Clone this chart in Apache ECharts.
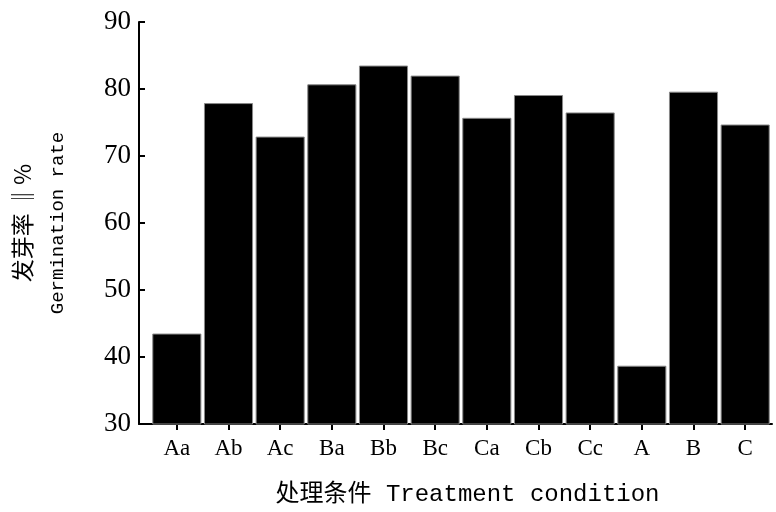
<!DOCTYPE html>
<html>
<head>
<meta charset="utf-8">
<script src="https://cdn.jsdelivr.net/npm/echarts@6/dist/echarts.min.js"></script>
<style>
  html, body { margin: 0; padding: 0; background: #fff; }
  #chart { width: 776px; height: 512px; }
</style>
</head>
<body>
<div id="chart"></div>
<script>
// categories and germination rate (%)
var categories = ['Aa', 'Ab', 'Ac', 'Ba', 'Bb', 'Bc', 'Ca', 'Cb', 'Cc', 'A', 'B', 'C'];
var germRate = [43.5, 77.9, 72.9, 80.7, 83.5, 82.0, 75.7, 79.1, 76.5, 38.7, 79.6, 74.7];
var yMin = 30, yMax = 90, yStep = 10;

var chart = echarts.init(document.getElementById('chart'));
chart.setOption({
    animation: false,
    grid: [
        // frame: y axis + long x axis line
        { left: 139, right: 4, top: 22, bottom: 88, outerBoundsMode: 'none', containLabel: false },
        // bars
        { left: 151, width: 620, top: 22, bottom: 88, outerBoundsMode: 'none', containLabel: false }
    ],
    xAxis: [
        {
            gridIndex: 0, type: 'value', min: 0, max: 1,
            axisLine: { show: true, lineStyle: { color: '#000', width: 2 } },
            axisTick: { show: false }, axisLabel: { show: false }, splitLine: { show: false },
            name: '处理条件 Treatment condition',
            nameLocation: 'middle', nameGap: 59,
            nameTextStyle: { fontFamily: 'Liberation Mono, Noto Sans CJK SC', fontSize: 24, color: '#000', padding: [0, 0, 0, 24] }
        },
        {
            gridIndex: 1, type: 'category', data: categories,
            axisLine: { show: false },
            axisTick: { show: true, alignWithLabel: true, length: 6, lineStyle: { color: '#000', width: 2 } },
            axisLabel: { color: '#000', fontFamily: 'Liberation Serif', fontSize: 23, margin: 13 }
        }
    ],
    yAxis: [
        {
            gridIndex: 0, type: 'value', min: yMin, max: yMax, interval: yStep,
            axisLine: { show: true, lineStyle: { color: '#000', width: 2 } },
            axisTick: { show: true, inside: true, length: 6, lineStyle: { color: '#000', width: 2 } },
            axisLabel: { color: '#000', fontFamily: 'Liberation Serif', fontSize: 27, margin: 8 },
            splitLine: { show: false },
            name: '{a|发芽率 ‖%}\n{b|Germination rate}',
            nameLocation: 'middle', nameRotate: 90, nameGap: 63,
            nameTextStyle: {
                color: '#000',
                rich: {
                    a: { fontFamily: 'Noto Sans CJK SC', fontSize: 23, lineHeight: 36, color: '#000' },
                    b: { fontFamily: 'Liberation Mono', fontSize: 19, lineHeight: 36, color: '#000' }
                }
            }
        },
        {
            gridIndex: 1, type: 'value', min: yMin, max: yMax, show: false
        }
    ],
    series: [{
        type: 'bar',
        xAxisIndex: 1, yAxisIndex: 1,
        data: germRate,
        barCategoryGap: '5%',
        itemStyle: { color: '#000', borderColor: '#888', borderWidth: 1 }
    }]
});
</script>
</body>
</html>
